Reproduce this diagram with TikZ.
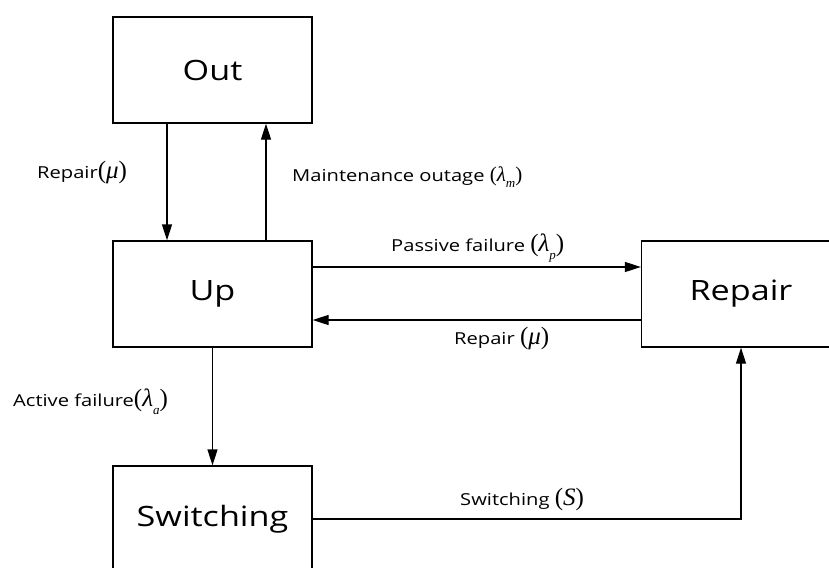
\documentclass[tikz,border=0pt]{standalone}
\usepackage{fontspec}
\newfontfamily\dfont[FakeStretch=1.22]{Open Sans}
\newfontfamily\gfont{Liberation Serif}
\newcommand\grk[2][25]{{\gfont\fontsize{#1}{#1}\selectfont(#2)}}
\newcommand\subi[1]{\raisebox{-0.3em}{\fontsize{13}{13}\selectfont\itshape #1}}
\usetikzlibrary{arrows.meta}
\begin{document}
\begin{tikzpicture}[x=1pt,y=-1pt,
  state/.style={draw, line width=1.3pt, minimum width=199pt, minimum height=106pt, inner sep=0pt,
    font=\dfont\fontsize{28}{32}\selectfont},
  lab/.style={anchor=west, inner sep=0pt, font=\dfont\fontsize{16.5}{19}\selectfont},
  arr/.style={line width=1.3pt, -{Triangle[length=16pt,width=10pt]}}]
\clip (0,0) rectangle (829,567);
\fill[white] (0,0) rectangle (829,567);
\node[state] (out) at (212.5,70) {Out};
\node[state] (up) at (212.5,294) {Up};
\node[state] (rep) at (741,294) {Repair};
\node[state] (sw) at (212.5,519) {Switching};
% connectors
\draw[arr] ([xshift=-45.5pt]out.south) -- ([xshift=-45.5pt]up.north);
\draw[arr] ([xshift=53.5pt]up.north) -- ([xshift=53.5pt]out.south);
\draw[arr] ([yshift=27pt]up.east) -- ([yshift=27pt]rep.west);
\draw[arr] ([yshift=-26pt]rep.west) -- ([yshift=-26pt]up.east);
\draw[arr] (up.south) -- (sw.north);
\draw[arr] (sw.east) -| (rep.south);
% labels
\node[lab] (l1) at (37,172) {Repair\grk{\textit{μ}}};
\node[lab] (l2) at (292,177) {Maintenance outage \grk[21]{\textit{λ}\subi{m}}};
\node[lab] (l3) at (391,248) {Passive failure \grk{\textit{λ}\subi{p}}};
\node[lab] (l4) at (454,338) {Repair \grk{\textit{μ}}};
\node[lab] (l5) at (13,402) {Active failure\grk{\textit{λ}\subi{a}}};
\node[lab] (l6) at (460,499) {Switching \grk{\textit{S}}};
\end{tikzpicture}
\end{document}
